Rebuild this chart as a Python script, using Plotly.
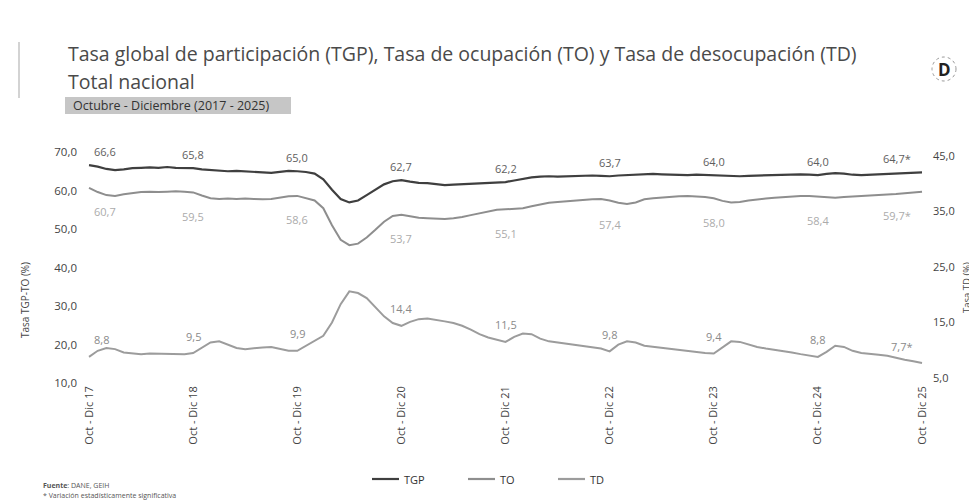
import plotly.graph_objects as go

# ---------------- data ----------------
MESES = ["Ene", "Feb", "Mar", "Abr", "May", "Jun", "Jul", "Ago", "Sep", "Oct", "Nov", "Dic"]

def trimestre(i):
    m0 = 9 + i
    a0, s0 = 2017 + m0 // 12, m0 % 12
    m2 = m0 + 2
    a2, s2 = 2017 + m2 // 12, m2 % 12
    if a0 == a2:
        return f"{MESES[s0]} - {MESES[s2]} {a2 % 100:02d}"
    return f"{MESES[s0]} {a0 % 100:02d} - {MESES[s2]} {a2 % 100:02d}"

tgp = [66.6, 66.2, 65.6, 65.3, 65.5, 65.8, 65.9, 66.0, 65.9, 66.1, 65.9, 65.9,
       65.8, 65.5, 65.3, 65.1, 65.0, 65.1, 64.9, 64.8, 64.7, 64.6, 64.9, 65.1,
       65.0, 64.8, 64.4, 62.9, 60.2, 57.8, 56.9, 57.4, 58.8, 60.3, 61.6, 62.4,
       62.7, 62.3, 62.0, 61.9, 61.6, 61.4, 61.5, 61.6, 61.7, 61.9, 62.0, 62.1,
       62.2, 62.6, 63.0, 63.4, 63.6, 63.7, 63.6, 63.7, 63.8, 63.9, 63.9, 63.8,
       63.7, 63.9, 64.0, 64.1, 64.2, 64.3, 64.2, 64.1, 64.1, 64.0, 64.1, 64.0,
       64.0, 63.8, 63.7, 63.7, 63.8, 63.9, 64.0, 64.0, 64.1, 64.2, 64.2, 64.1,
       64.0, 64.3, 64.5, 64.4, 64.1, 64.0, 64.1, 64.2, 64.3, 64.4, 64.5, 64.6,
       64.7]

to = [60.7, 59.6, 58.8, 58.6, 59.0, 59.3, 59.6, 59.7, 59.6, 59.7, 59.8, 59.7,
      59.5, 58.7, 58.0, 57.8, 57.9, 57.8, 57.9, 57.8, 57.7, 57.8, 58.2, 58.5,
      58.6, 58.0, 57.4, 55.4, 51.0, 47.2, 45.8, 46.2, 47.8, 49.8, 51.9, 53.4,
      53.7, 53.3, 52.9, 52.8, 52.7, 52.6, 52.8, 53.1, 53.6, 54.1, 54.6, 55.0,
      55.1, 55.3, 55.4, 55.9, 56.4, 56.8, 57.0, 57.2, 57.4, 57.6, 57.7, 57.8,
      57.4, 56.8, 56.5, 56.9, 57.7, 58.0, 58.2, 58.4, 58.5, 58.6, 58.5, 58.3,
      58.0, 57.3, 56.9, 57.0, 57.4, 57.7, 57.9, 58.1, 58.3, 58.5, 58.6, 58.6,
      58.4, 58.2, 58.1, 58.3, 58.5, 58.6, 58.7, 58.8, 58.9, 59.1, 59.3, 59.5,
      59.7]

td = [8.8, 9.9, 10.4, 10.2, 9.6, 9.4, 9.3, 9.4, 9.4, 9.3, 9.3, 9.3,
      9.5, 10.5, 11.4, 11.6, 11.0, 10.4, 10.2, 10.4, 10.5, 10.6, 10.2, 9.9,
      9.9, 10.8, 11.6, 12.6, 15.0, 18.3, 20.6, 20.3, 19.4, 17.8, 16.1, 14.9,
      14.4, 15.1, 15.6, 15.7, 15.5, 15.2, 14.9, 14.4, 13.7, 12.9, 12.3, 11.9,
      11.5, 12.4, 13.0, 12.9, 12.1, 11.6, 11.4, 11.1, 10.9, 10.8, 10.6, 10.3,
      9.8, 11.0, 11.6, 11.4, 10.8, 10.6, 10.4, 10.2, 10.0, 9.8, 9.7, 9.5,
      9.4, 10.5, 11.6, 11.5, 11.0, 10.6, 10.3, 10.1, 9.9, 9.6, 9.3, 9.0,
      8.8, 9.7, 10.8, 10.6, 9.9, 9.5, 9.4, 9.2, 9.0, 8.6, 8.3, 8.0,
      7.7]

periodos = [trimestre(i) for i in range(len(tgp))]
idx_etiquetas = list(range(0, len(tgp), 12))          # Oct - Dic de cada año
ticktext = [periodos[i] for i in idx_etiquetas]
lbl_tgp = ["66,6", "65,8", "65,0", "62,7", "62,2", "63,7", "64,0", "64,0", "64,7*"]
lbl_to = ["60,7", "59,5", "58,6", "53,7", "55,1", "57,4", "58,0", "58,4", "59,7*"]
lbl_td = ["8,8", "9,5", "9,9", "14,4", "11,5", "9,8", "9,4", "8,8", "7,7*"]
series_nombres = ["TGP", "TO", "TD"]

# ---------------- geometry ----------------
W, H = 977, 503
L, R, T, B = 70, 53, 144, 128
PW, PH = W - L - R, H - T - B

def px(x):
    return (x - L) / PW

def py(y):
    return (H - B - y) / PH

FONT = "Open Sans"
COLORES = ["#3f3f3f", "#8e8e8e", "#9c9c9c"]
fig = go.Figure()

fig.add_trace(go.Scatter(x=periodos, y=tgp, name="TGP", mode="lines",
                         line=dict(color=COLORES[0], width=2.2)))
fig.add_trace(go.Scatter(x=periodos, y=to, name="TO", mode="lines",
                         line=dict(color=COLORES[1], width=2)))
fig.add_trace(go.Scatter(x=periodos, y=td, name="TD", mode="lines", yaxis="y2",
                         line=dict(color=COLORES[2], width=2)))

ann = []
n = len(idx_etiquetas)
for k, i in enumerate(idx_etiquetas):
    dx = 16 if k == 0 else (-25 if k == n - 1 else 0)
    dxt = 12 if k == 0 else (-21 if k == n - 1 else 0)
    ann.append(dict(x=periodos[i], y=tgp[i], text=lbl_tgp[k], showarrow=False,
                    xshift=dx, yshift=14, font=dict(size=11, color="#5e5e5e", family=FONT)))
    ann.append(dict(x=periodos[i], y=to[i], text=lbl_to[k], showarrow=False,
                    xshift=dx, yshift=-24, font=dict(size=11, color="#ababab", family=FONT)))
    ann.append(dict(x=periodos[i], y=td[i], yref="y2", text=lbl_td[k], showarrow=False,
                    xshift=dxt, yshift=17, font=dict(size=11, color="#8a8a8a", family=FONT)))

# titles and notes
ann += [
    dict(xref="paper", yref="paper", x=px(58), y=py(46), xanchor="left", yanchor="middle",
         text="Tasa global de participación (TGP), Tasa de ocupación (TO) y Tasa de desocupación (TD)",
         showarrow=False, font=dict(size=19.5, color="#4a4a4a", family=FONT)),
    dict(xref="paper", yref="paper", x=px(58), y=py(73.5), xanchor="left", yanchor="middle",
         text="Total nacional", showarrow=False, font=dict(size=19.5, color="#4a4a4a", family=FONT)),
    dict(xref="paper", yref="paper", x=px(63), y=py(97.5), xanchor="left", yanchor="middle",
         text="Octubre - Diciembre (2017 - 2025)", showarrow=False,
         font=dict(size=12.5, color="#333333", family=FONT)),
    dict(xref="paper", yref="paper", x=px(936), y=py(61), xanchor="center", yanchor="middle",
         text="<b>D</b>", showarrow=False, font=dict(size=17, color="#222222", family=FONT)),
    dict(xref="paper", yref="paper", x=px(17), y=py(292), xanchor="center", yanchor="middle",
         text="Tasa TGP-TO (%)", textangle=-90, showarrow=False,
         font=dict(size=10, color="#444444", family=FONT)),
    dict(xref="paper", yref="paper", x=px(958), y=py(280), xanchor="center", yanchor="middle",
         text="Tasa TD (%)", textangle=-90, showarrow=False,
         font=dict(size=9.5, color="#444444", family=FONT)),
    dict(xref="paper", yref="paper", x=px(33), y=py(477), xanchor="left", yanchor="middle",
         text="<b>Fuente</b>: DANE, GEIH", showarrow=False,
         font=dict(size=7, color="#555555", family=FONT)),
    dict(xref="paper", yref="paper", x=px(33), y=py(487), xanchor="left", yanchor="middle",
         text="* Variación estadísticamente significativa", showarrow=False,
         font=dict(size=7, color="#555555", family=FONT)),
]

shapes = [
    dict(type="rect", xref="paper", yref="paper", x0=px(57), x1=px(283), y0=py(89), y1=py(106),
         fillcolor="#c6c6c6", line=dict(width=0), layer="below"),
    dict(type="line", xref="paper", yref="paper", x0=px(11), x1=px(11), y0=py(34), y1=py(90),
         line=dict(color="#c4c4c4", width=1.5)),
    dict(type="circle", xref="paper", yref="paper", x0=px(924), x1=px(948), y0=py(49), y1=py(73),
         line=dict(color="#999999", width=1, dash="dot")),
]

# legend (drawn manually for exact spacing)
leg_x0 = [364, 460, 550]
for nombre, color, x0 in zip(series_nombres, COLORES, leg_x0):
    shapes.append(dict(type="line", xref="paper", yref="paper", x0=px(x0), x1=px(x0 + 27),
                       y0=py(471), y1=py(471), line=dict(color=color, width=2.2)))
    ann.append(dict(xref="paper", yref="paper", x=px(x0 + 30), y=py(471), xanchor="left",
                    yanchor="middle", text=nombre, showarrow=False,
                    font=dict(size=11, color="#333333", family=FONT)))

fig.update_layout(
    width=W, height=H, autosize=False,
    margin=dict(l=L, r=R, t=T, b=B),
    paper_bgcolor="white", plot_bgcolor="white",
    separators=",.",
    font=dict(family=FONT, color="#444444"),
    showlegend=False,
    xaxis=dict(type="category", categoryorder="array", categoryarray=periodos,
               range=[-1.27, 97.15], tickmode="array", tickvals=ticktext, ticktext=ticktext,
               tickangle=-90, tickfont=dict(size=11, color="#444444", family=FONT),
               showgrid=False, zeroline=False, showline=False, ticks=""),
    yaxis=dict(range=[10, 70], tickvals=[10, 20, 30, 40, 50, 60, 70], tickformat=".1f",
               tickfont=dict(size=11.5, color="#444444", family=FONT),
               showgrid=False, zeroline=False, showline=False),
    yaxis2=dict(range=[4.1, 45.7], tickvals=[5, 15, 25, 35, 45], tickformat=".1f",
                overlaying="y", side="right", tickfont=dict(size=11, color="#444444", family=FONT),
                showgrid=False, zeroline=False, showline=False),
    annotations=ann,
    shapes=shapes,
)

fig.write_html("out.html")
